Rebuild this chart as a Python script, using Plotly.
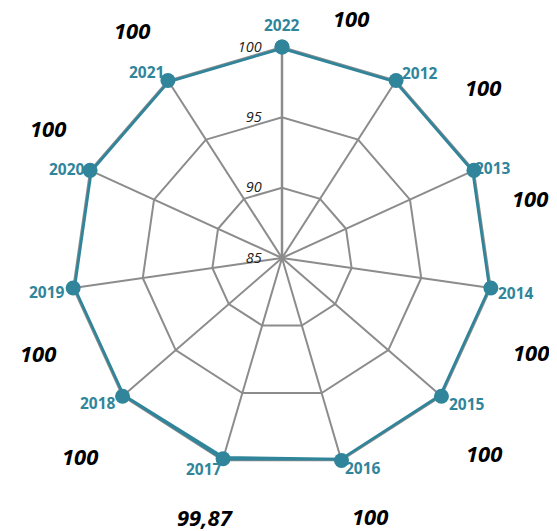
import math
import plotly.graph_objects as go

# ── data ──────────────────────────────────────────────────────────────────────
years = ["2022", "2012", "2013", "2014", "2015", "2016",
         "2017", "2018", "2019", "2020", "2021"]
values = [100, 100, 100, 100, 100, 100, 99.87, 100, 100, 100, 100]
value_text = ["100", "100", "100", "100", "100", "100",
              "99,87", "100", "100", "100", "100"]
radial_ticks = [85, 90, 95, 100]

# ── layout helpers (label placement, not data) ────────────────────────────────
TEAL = "#31859b"
GRID = "#8c8c8c"

# category labels: angle tweak (deg) and distance from centre (px)
cat_shift = [0, 4, 1.4, 0.3, -2.6, -4.7, 3.9, 2.7, 0, -2, -3.3]
cat_dist = [233, 231, 229, 237, 236, 225, 225, 234, 237, 233, 230]
# value labels
val_shift = [16, 17, 11, 12.5, 3, -2.4, 0, -3.5, -13, 4.5, -0.6]
val_dist = [250, 264, 255, 266, 281, 273, 270, 283, 262, 268, 273]

step = 360 / len(years)

fig = go.Figure()

fig.add_trace(go.Scatterpolar(
    r=values + values[:1], theta=years + years[:1],
    mode="lines+markers",
    line=dict(color=TEAL, width=5.5),
    marker=dict(color=TEAL, size=15),
    showlegend=False, cliponaxis=False,
))


def polar_note(i, shift, dist, text, font):
    a = math.radians(i * step + shift)
    fig.add_annotation(
        x=0.5, y=0.5, xref="paper", yref="paper",
        xshift=dist * math.sin(a), yshift=dist * math.cos(a),
        text=text, showarrow=False, font=font,
        xanchor="center", yanchor="middle",
    )


for i, yr in enumerate(years):
    polar_note(i, cat_shift[i], cat_dist[i], yr,
               dict(family="Open Sans", size=15.5, color=TEAL, weight="bold"))
    polar_note(i, val_shift[i], val_dist[i], value_text[i],
               dict(family="Open Sans", size=22, color="#000000",
                    weight="bold", style="italic"))

fig.update_layout(
    width=557, height=531,
    paper_bgcolor="white",
    margin=dict(l=63, r=72, t=39, b=70),
    polar=dict(
        domain=dict(x=[0, 1], y=[0, 1]),
        bgcolor="white",
        gridshape="linear",
        radialaxis=dict(
            range=[85, 100], tickvals=radial_ticks, angle=90, tickangle=90,
            side="counterclockwise", layer="below traces",
            showline=True, linecolor=GRID, linewidth=2.5,
            gridcolor=GRID, gridwidth=1.8,
            ticks="outside", ticklen=14, tickcolor="rgba(0,0,0,0)",
            tickfont=dict(family="Open Sans", size=14.5, color="#222222", style="italic"),
        ),
        angularaxis=dict(
            rotation=90, direction="clockwise", type="category",
            categoryarray=years, layer="below traces",
            showline=True, linecolor=GRID, linewidth=1.8,
            gridcolor=GRID, gridwidth=1.8, ticks="", showticklabels=False,
        ),
    ),
)

fig.write_html("out.html")
